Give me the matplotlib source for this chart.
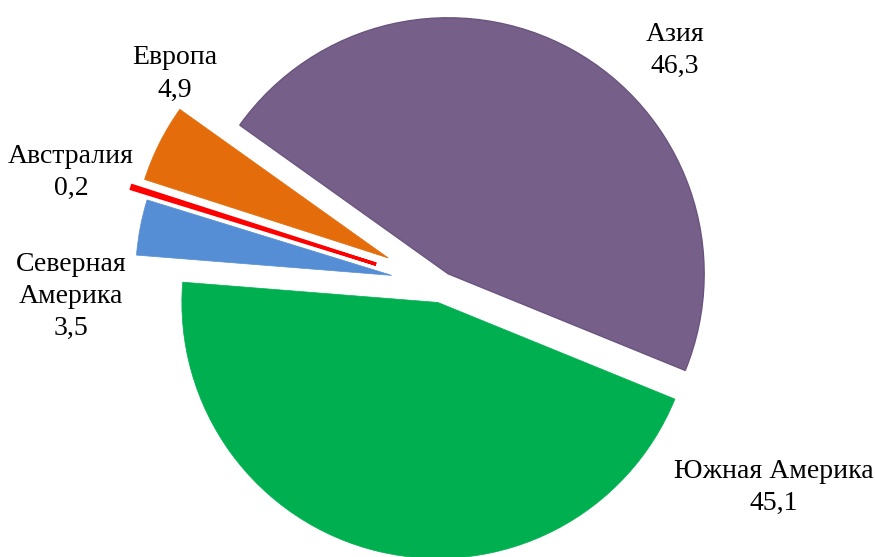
import matplotlib
matplotlib.use('Agg')
import matplotlib.pyplot as plt

# доли по континентам, %
regions = ['Азия', 'Южная Америка', 'Северная\nАмерика', 'Австралия', 'Европа']
shares = [46.3, 45.1, 3.5, 0.2, 4.9]
colors = ['#76608A', '#00B050', '#558ED5', '#FF0000', '#E46C0A']
edges = ['#6A547E', '#00B050', '#558ED5', '#FF0000', '#E46C0A']
edge_widths = [1.0, 0.5, 0.5, 2.4, 0.5]
explode = [0.05, 0.07, 0.2, 0.27, 0.235]

# где стоят подписи (доли осей)
label_pos = [(0.771, 0.910), (0.884, 0.125), (0.081, 0.468), (0.081, 0.690), (0.200, 0.867)]

plt.rcParams['font.family'] = ['Liberation Serif', 'DejaVu Serif']

fig = plt.figure(figsize=(8.75, 5.57), dpi=100)
ax = fig.add_axes([0, 0, 1, 1])

wedges, _ = ax.pie(shares, colors=colors, explode=explode, startangle=144.5,
                   counterclock=False, radius=1.0)
for w, ec, lw in zip(wedges, edges, edge_widths):
    w.set_edgecolor(ec)
    w.set_linewidth(lw)

# центр круга ~ (442, 285) px, радиус 256 px
ax.set_xlim(-442 / 256, (875 - 442) / 256)
ax.set_ylim(-(557 - 285) / 256, 285 / 256)
ax.set_aspect('equal', adjustable='box')
ax.axis('off')

for name, val, (x, y) in zip(regions, shares, label_pos):
    txt = name + '\n' + f'{val:.1f}'.replace('.', ',')
    ax.text(x, y, txt, transform=ax.transAxes, ha='center', va='center',
            fontsize=20, linespacing=1.38, color='black')

fig.savefig('out.png', dpi=100)
